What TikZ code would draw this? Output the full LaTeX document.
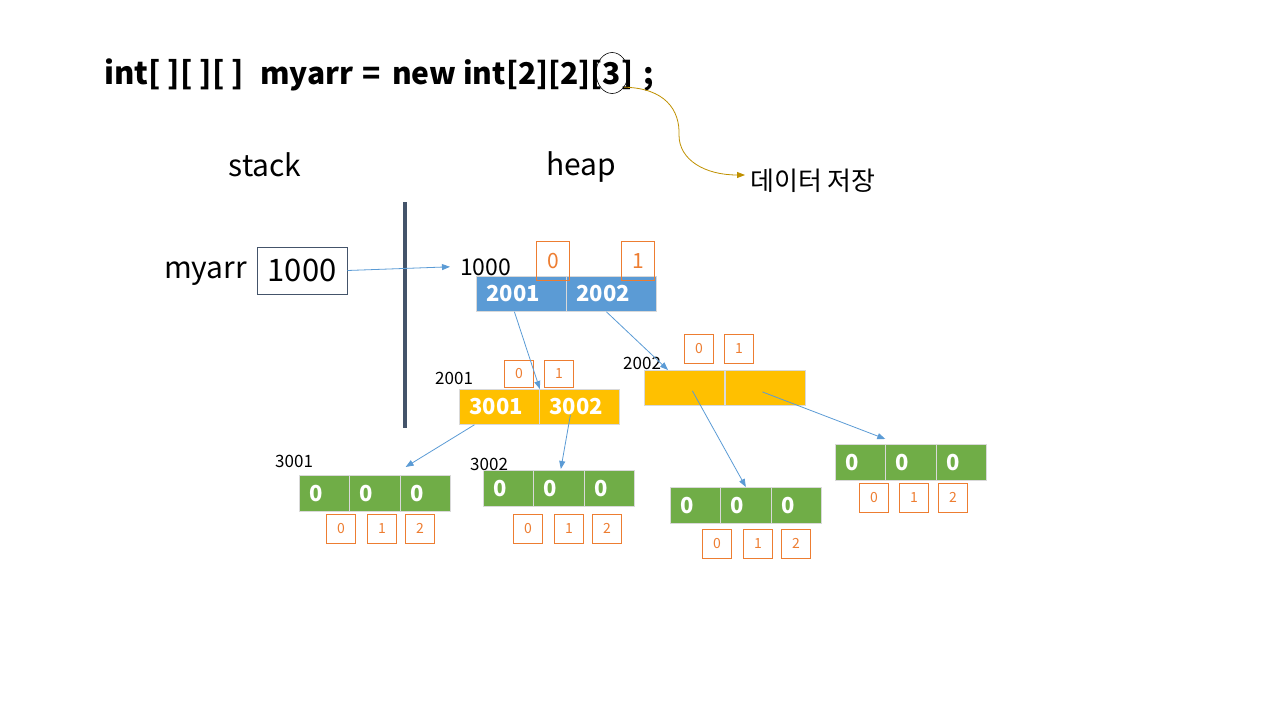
\documentclass[tikz,border=0pt]{standalone}
\usepackage{fontspec}
\setmainfont{Noto Sans CJK KR}
\usetikzlibrary{arrows.meta,shapes.geometric}
\definecolor{cblue}{HTML}{5B9BD5}
\definecolor{cyel}{HTML}{FFC000}
\definecolor{cgreen}{HTML}{70AD47}
\definecolor{corange}{HTML}{ED7D31}
\definecolor{cgold}{HTML}{BF9000}
\definecolor{cslate}{HTML}{44546A}
\newcommand{\fs}[1]{\fontsize{#1}{#1}\selectfont}
\begin{document}
\begin{tikzpicture}[x=1pt,y=-1pt,
  cellbase/.style={rectangle, draw=white!85!black, line width=0.8pt, anchor=north west, inner ysep=0pt, text=white, font=\fs{22}\bfseries, align=left},
  bcell/.style={cellbase, fill=cblue, minimum height=35pt, text width=70pt, inner xsep=10pt},
  ycell/.style={cellbase, fill=cyel, minimum height=35pt, text width=60pt, inner xsep=10pt},
  gcell/.style={cellbase, fill=cgreen, minimum height=36pt, text width=30.3pt, inner xsep=10pt},
  idx/.style={rectangle, draw=corange, line width=0.8pt, text=corange, anchor=north west, inner sep=0pt, minimum width=29pt, minimum height=29pt, font=\fs{14}},
  bigidx/.style={idx, minimum width=33pt, minimum height=39pt, font=\fs{21}},
  lbl/.style={inner sep=0pt, anchor=base west},
  ttl/.style={lbl, font=\fs{30}\bfseries},
  ptr/.style={draw=cblue, line width=0.8pt, -{Triangle[length=8pt,width=6pt]}},
]
\useasboundingbox (0,0) rectangle (1280,720);

% title
\node[ttl, font=\fs{31}\bfseries] (t1) at (104,84) {int[ ][ ][ ]};
\node[ttl] (t2) at (260,84) {myarr};
\node[ttl] (t3) at (362,84) {=};
\node[ttl] (t4) at (392,84) {new int[2][2][};
\node[ttl] (t5) at (t4.base east) {3};
\node[ttl] (t6) at (t5.base east) {]};
\node[ttl] (t7) at (643,84) {;};
\node[ellipse, draw=black, line width=0.6pt, minimum width=32pt, minimum height=41pt, inner sep=0pt] (circ) at ([yshift=11pt]t5.base) {};
\node[lbl, font=\fs{26}] (save) at (750,190) {데이터 저장};
\coordinate (savein) at (745,175);
\draw[draw=cgold, line width=0.8pt, -{Triangle[length=8pt,width=6pt]}] (circ.-50) .. controls (665,88) and (680,110) .. (679,135) .. controls (679,160) and (705,175) .. (savein);

% headings
\node[font=\fs{30}] (stack) at (265,165) {stack};
\node[font=\fs{30}] (heap) at (581,167) {heap};
\draw[draw=cslate, line width=4pt] (405,202) coordinate (vtop) -- (405,428) coordinate (vbot);

% stack variable
\node[lbl, font=\fs{30}] (myarr) at (164,278) {myarr};
\node[rectangle, draw=cslate, line width=0.8pt, minimum width=90pt, minimum height=47pt, inner sep=0pt, font=\fs{31}] (mbox) at (302,270.5) {1000};

% heap level 1
\node[lbl, font=\fs{23}] (l1000) at (460,275) {1000};
\node[bcell] (b0) at (476,276) {2001};
\node[bcell] (b1) at (566,276) {2002};
\node[bigidx] (bi0) at (536,241) {0};
\node[bigidx] (bi1) at (621,241) {1};
\draw[ptr] (mbox.east) -- ([xshift=-10pt]l1000.west);

% level 2
\node[lbl, font=\fs{17}] (l2001) at (435,384) {2001};
\node[ycell] (y0) at (459,389) {3001};
\node[ycell] (y1) at (539,389) {3002};
\node[idx, minimum height=27pt] (yi0) at (504,360) {0};
\node[idx, minimum height=27pt] (yi1) at (544,360) {1};

\node[lbl, font=\fs{17}] (l2002) at (623,369) {2002};
\node[ycell] (z0) at (644,370) {};
\node[ycell] (z1) at (725,370) {};
\node[idx] (zi0) at (684,334) {0};
\node[idx] (zi1) at (724,334) {1};

\draw[ptr] ([xshift=-7pt]b0.south) -- (y0.north east);
\draw[ptr] ([xshift=-5pt]b1.south) -- ([xshift=24pt]z0.north west);

% level 3
\node[lbl, font=\fs{17}] (l3001) at (275,467) {3001};
\node[gcell] (ga0) at (299,475) {0};
\node[gcell] (ga1) at (349.3,475) {0};
\node[gcell] (ga2) at (399.6,475) {0};
\node[idx] (gai0) at (326,514) {0};
\node[idx] (gai1) at (367,514) {1};
\node[idx] (gai2) at (405,514) {2};

\node[lbl, font=\fs{17}] (l3002) at (470,470) {3002};
\node[gcell] (gb0) at (483,470) {0};
\node[gcell] (gb1) at (533.3,470) {0};
\node[gcell] (gb2) at (583.6,470) {0};
\node[idx] (gbi0) at (513,514) {0};
\node[idx] (gbi1) at (554,514) {1};
\node[idx] (gbi2) at (592,514) {2};

\node[gcell] (gc0) at (670,487) {0};
\node[gcell] (gc1) at (720.3,487) {0};
\node[gcell] (gc2) at (770.6,487) {0};
\node[idx] (gci0) at (702,529) {0};
\node[idx] (gci1) at (743,529) {1};
\node[idx] (gci2) at (781,529) {2};

\node[gcell] (gd0) at (835,444) {0};
\node[gcell] (gd1) at (885.3,444) {0};
\node[gcell] (gd2) at (935.6,444) {0};
\node[idx] (gdi0) at (859,483) {0};
\node[idx] (gdi1) at (899,483) {1};
\node[idx] (gdi2) at (938,483) {2};

\draw[ptr] ([shift={(-25pt,0pt)}]y0.south) -- ([shift={(6pt,8pt)}]ga2.north west);
\draw[ptr] ([shift={(-9pt,-8pt)}]y1.center) -- ([shift={(2pt,1pt)}]gb1.north);
\draw[ptr] ([shift={(8pt,-3pt)}]z0.center) -- (gc1.north);
\draw[ptr] ([shift={(-3pt,-4pt)}]z1.center) -- ([yshift=5pt]gd1.north west);
\end{tikzpicture}
\end{document}
